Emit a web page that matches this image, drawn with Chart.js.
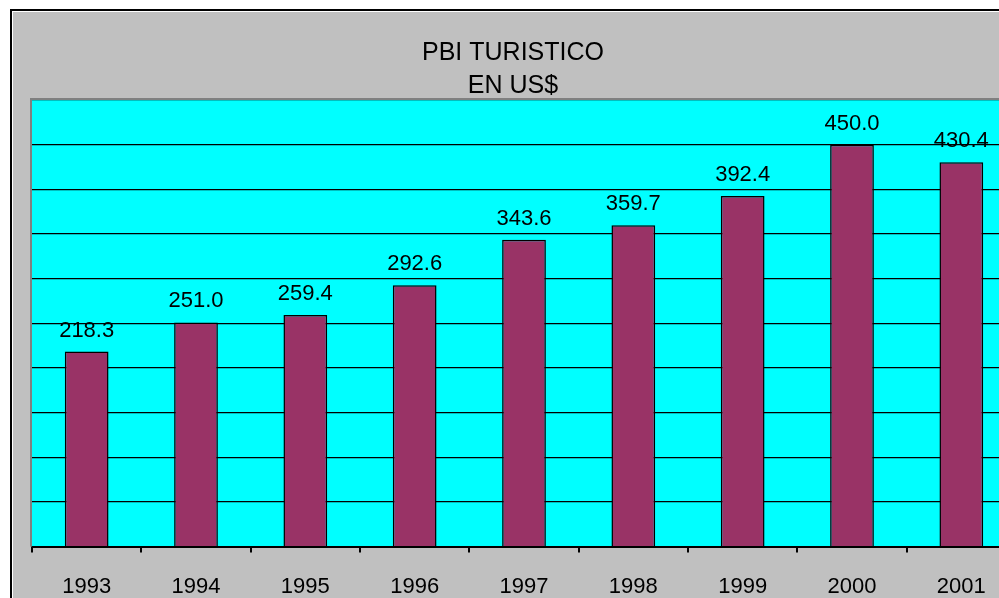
<!DOCTYPE html>
<html>
<head>
<meta charset="utf-8">
<script src="https://cdn.jsdelivr.net/npm/chart.js@4/dist/chart.umd.min.js"></script>
<style>
  html, body { margin: 0; padding: 0; background: #fff; overflow: hidden; width: 999px; height: 598px; }
  canvas { display: block; }
</style>
</head>
<body>
<canvas id="myChart" width="1030" height="621"></canvas>
<script>
var years = ["1993", "1994", "1995", "1996", "1997", "1998", "1999", "2000", "2001"];
var pbi = [218.3, 251.0, 259.4, 292.6, 343.6, 359.7, 392.4, 450.0, 430.4];
var titleLines = ["PBI TURISTICO", "EN US$"];

var font = "'Liberation Sans', Arial, sans-serif";

// fondo gris con marco negro y area de grafico cyan
var fondo = {
    id: 'fondo',
    beforeDraw: function (chart) {
        var c = chart.ctx, a = chart.chartArea;
        c.save();
        c.fillStyle = '#ffffff';
        c.fillRect(0, 0, chart.width, chart.height);
        c.fillStyle = '#000000';
        c.fillRect(10, 9, chart.width + 20, chart.height + 20);
        c.fillStyle = '#ffffff';
        c.fillRect(12, 11, chart.width + 20, chart.height + 20);
        c.fillStyle = '#c0c0c0';
        c.fillRect(13, 12, chart.width + 20, chart.height + 20);
        c.fillStyle = '#00ffff';
        c.fillRect(a.left, a.top, a.right - a.left, a.bottom - a.top);
        c.restore();
    },
    afterDraw: function (chart) {
        var c = chart.ctx, a = chart.chartArea;
        c.save();
        c.fillStyle = '#808080';
        c.fillRect(a.left - 2, a.top - 2, a.right - a.left + 2, 2);
        c.fillRect(a.left - 2, a.top - 2, 2, a.bottom - a.top + 2);
        c.restore();
    }
};

// valores encima de las barras
var etiquetas = {
    id: 'etiquetas',
    afterDatasetsDraw: function (chart) {
        var c = chart.ctx;
        var meta = chart.getDatasetMeta(0);
        c.save();
        c.font = '22px ' + font;
        c.fillStyle = '#000000';
        c.textAlign = 'center';
        c.textBaseline = 'middle';
        meta.data.forEach(function (bar, i) {
            c.fillText(pbi[i].toFixed(1), bar.x, bar.y - 21);
        });
        c.restore();
    }
};

var ctx = document.getElementById("myChart");
var myChart = new Chart(ctx, {
    type: 'bar',
    data: {
        labels: years,
        datasets: [{
            label: 'PBI',
            data: pbi,
            backgroundColor: '#993366',
            borderColor: '#000000',
            borderWidth: 1.5,
            barPercentage: 0.4,
            categoryPercentage: 1.0
        }]
    },
    options: {
        responsive: false,
        animation: false,
        layout: {
            padding: { left: 10, right: 14, top: 0, bottom: 0 }
        },
        plugins: {
            legend: { display: false },
            tooltip: { enabled: false },
            title: {
                display: true,
                text: titleLines,
                color: '#000000',
                font: { family: font, size: 25, weight: 'normal', lineHeight: 1.32 },
                padding: { top: 37, bottom: -3 }
            }
        },
        scales: {
            x: {
                grid: {
                    display: true,
                    drawOnChartArea: false,
                    offset: true,
                    tickLength: 6,
                    color: '#000000',
                    lineWidth: 2
                },
                border: { display: true, color: '#000000', width: 2 },
                ticks: {
                    color: '#000000',
                    padding: 21,
                    font: { family: font, size: 22 }
                }
            },
            y: {
                min: 0,
                max: 500,
                ticks: { display: false, stepSize: 50 },
                grid: { color: '#000000', lineWidth: 1.2, drawTicks: false },
                border: { display: false },
                afterFit: function (scale) { scale.width = 22; }
            }
        }
    },
    plugins: [fondo, etiquetas]
});
</script>
</body>
</html>
